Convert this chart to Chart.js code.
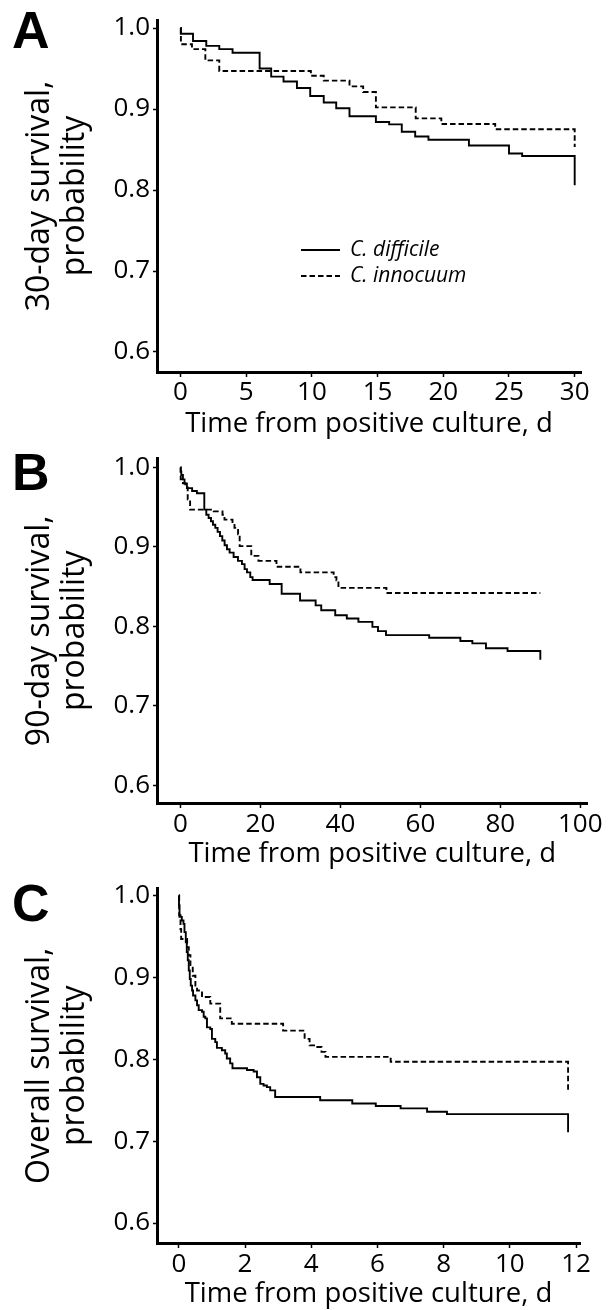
<!DOCTYPE html>
<html><head><meta charset="utf-8">
<script src="https://cdn.jsdelivr.net/npm/chart.js@4.4.1/dist/chart.umd.min.js"></script>
<style>
html,body{margin:0;padding:0;background:#fff;}
#wrap{position:relative;width:611px;height:1310px;overflow:hidden;background:#fff;}
.pane{position:absolute;left:0;width:611px;}
.lbl{position:absolute;font-family:'Liberation Sans',Arial,sans-serif;font-weight:700;font-size:52px;line-height:1;color:#000;}
</style></head><body>
<div id="wrap">
  <div class="pane" style="top:0;height:440px"><canvas id="cA" width="611" height="440"></canvas></div>
  <div class="pane" style="top:440px;height:430px"><canvas id="cB" width="611" height="430"></canvas></div>
  <div class="pane" style="top:870px;height:440px"><canvas id="cC" width="611" height="440"></canvas></div>
  <div class="lbl" style="left:12px;top:4px">A</div>
  <div class="lbl" style="left:12px;top:446px">B</div>
  <div class="lbl" style="left:12px;top:877px">C</div>
</div>
<script>
// ---- data ----
const seriesNames = ['C. difficile', 'C. innocuum'];
const xTitle = 'Time from positive culture, d';
const yTitleA = ['30-day survival,', 'probability'];
const yTitleB = ['90-day survival,', 'probability'];
const yTitleC = ['Overall survival,', 'probability'];
const yTicks = [0.6, 0.7, 0.8, 0.9, 1.0];
const xTicksA = [0, 5, 10, 15, 20, 25, 30];
const xTicksB = [0, 20, 40, 60, 80, 100];
const xTicksC = [0, 2, 4, 6, 8, 10, 12];

// Panel A: 30-day survival
const aDiffT = [0, 0.02, 0.95, 1.96, 2.95, 3.96, 6.02, 6.9, 7.84, 8.86, 9.87, 10.9, 11.85, 12.86, 14.87, 15.88, 16.84, 17.86, 18.87, 21.95, 25.0, 26.0, 30.0, 30.0];
const aDiffS = [1.0, 0.993, 0.984, 0.978, 0.974, 0.9695, 0.950, 0.940, 0.934, 0.926, 0.916, 0.908, 0.901, 0.891, 0.884, 0.881, 0.872, 0.866, 0.862, 0.855, 0.845, 0.842, 0.842, 0.806];
const aInnT = [0, 0.03, 0.87, 1.89, 2.95, 9.92, 10.9, 12.86, 13.9, 14.87, 17.9, 19.85, 23.95, 30.0, 30.0];
const aInnS = [1.0, 0.980, 0.974, 0.960, 0.947, 0.941, 0.935, 0.928, 0.921, 0.902, 0.8885, 0.8815, 0.875, 0.875, 0.853];

// Panel B: 90-day survival
const bDiffT = [0, 0.05, 0.2, 0.6, 1.0, 1.6, 2.9, 4.1, 5.95, 6.45, 7.03, 7.62, 8.12, 8.7, 9.28, 9.87, 10.45, 11.03, 11.62, 12.28, 13.28, 14.37, 15.37, 16.03, 16.62, 17.45, 18.03, 22.3, 25.3, 29.9, 33.8, 35.2, 38.7, 41.6, 44.5, 48.0, 49.4, 51.4, 62.2, 70.0, 73.0, 76.4, 81.8, 90.0, 90.0];
const bDiffS = [1.0, 0.995, 0.9905, 0.985, 0.980, 0.974, 0.9705, 0.9676, 0.947, 0.9406, 0.9365, 0.9323, 0.928, 0.924, 0.919, 0.9136, 0.908, 0.9022, 0.897, 0.8928, 0.8874, 0.8824, 0.8783, 0.872, 0.868, 0.862, 0.8583, 0.8534, 0.841, 0.8326, 0.8264, 0.8202, 0.814, 0.8098, 0.8056, 0.7994, 0.794, 0.789, 0.7857, 0.7815, 0.7786, 0.7724, 0.769, 0.769, 0.758];
const bInnT = [0, 0.05, 0.6, 1.2, 1.8, 2.4, 8.3, 10.5, 11.0, 13.0, 13.5, 14.4, 14.8, 17.7, 19.5, 24.0, 30.0, 38.3, 39.0, 39.5, 51.5, 90.0];
const bInnS = [1.0, 0.985, 0.980, 0.975, 0.960, 0.947, 0.9448, 0.9406, 0.9344, 0.930, 0.924, 0.916, 0.901, 0.8887, 0.8824, 0.875, 0.868, 0.862, 0.858, 0.8484, 0.842, 0.842];

// Panel C: overall survival
const cDiffT = [0, 0.005, 0.02, 0.09, 0.14, 0.17, 0.21, 0.24, 0.27, 0.30, 0.33, 0.36, 0.40, 0.43, 0.50, 0.55, 0.60, 0.70, 0.75, 0.80, 0.85, 0.95, 1.0, 1.1, 1.15, 1.3, 1.4, 1.45, 1.55, 1.62, 2.06, 2.26, 2.36, 2.46, 2.56, 2.66, 2.76, 2.91, 4.27, 5.24, 5.95, 6.7, 7.5, 8.1, 11.76, 11.76];
const cDiffS = [1.0, 0.988, 0.974, 0.9695, 0.9654, 0.9553, 0.943, 0.931, 0.921, 0.9085, 0.898, 0.890, 0.884, 0.878, 0.872, 0.866, 0.860, 0.858, 0.852, 0.850, 0.839, 0.837, 0.825, 0.821, 0.814, 0.811, 0.807, 0.801, 0.795, 0.789, 0.787, 0.785, 0.778, 0.770, 0.768, 0.766, 0.762, 0.754, 0.750, 0.746, 0.743, 0.740, 0.736, 0.733, 0.733, 0.711];
const cInnT = [0, 0.01, 0.05, 0.07, 0.25, 0.30, 0.35, 0.42, 0.50, 0.55, 0.70, 0.95, 1.25, 1.60, 3.15, 3.80, 3.95, 4.13, 4.31, 4.43, 6.40, 11.76, 11.76];
const cInnS = [1.0, 0.976, 0.959, 0.947, 0.937, 0.927, 0.915, 0.902, 0.890, 0.884, 0.876, 0.868, 0.850, 0.8435, 0.835, 0.825, 0.817, 0.815, 0.809, 0.803, 0.797, 0.797, 0.760];

// ---- chart building ----
const FAM = "'Open Sans', sans-serif";
const DASH = [5.5, 3];

const legendPlugin = {
  id: 'inlineLegend',
  afterDatasetsDraw(chart, args, opts) {
    if (!opts || !opts.show) return;
    const ctx = chart.ctx;
    ctx.save();
    chart.data.datasets.forEach((d, i) => {
      const y = opts.y[i];
      ctx.beginPath();
      ctx.setLineDash(d.borderDash || []);
      ctx.lineWidth = 2;
      ctx.strokeStyle = '#000';
      ctx.moveTo(opts.x1, y);
      ctx.lineTo(opts.x2, y);
      ctx.stroke();
      ctx.setLineDash([]);
      ctx.fillStyle = '#000';
      ctx.font = 'italic 21px ' + FAM;
      ctx.textBaseline = 'middle';
      ctx.textAlign = 'left';
      ctx.fillText(d.label, opts.tx, y);
    });
    ctx.restore();
  }
};

function series(t, s, label, dash) {
  return {
    label: label,
    data: t.map((x, i) => ({x: x, y: s[i]})),
    stepped: true,
    borderColor: '#000',
    borderWidth: 1.9,
    borderDash: dash,
    pointRadius: 0,
    fill: false,
    tension: 0
  };
}

function makeChart(id, c) {
  new Chart(document.getElementById(id), {
    type: 'line',
    data: {datasets: [series(c.t1, c.s1, seriesNames[0], []), series(c.t2, c.s2, seriesNames[1], DASH)]},
    options: {
      responsive: false,
      animation: false,
      events: [],
      layout: {padding: {top: c.top, right: c.right, left: 0, bottom: 0}},
      plugins: {legend: {display: false}, tooltip: {enabled: false}, inlineLegend: c.legend || {show: false}},
      scales: {
        x: {
          type: 'linear', min: c.xmin, max: c.xmax,
          afterBuildTicks: s => { s.ticks = c.xt.map(v => ({value: v})); },
          afterFit: s => { s.height = c.xh; },
          grid: {display: true, drawOnChartArea: false, drawTicks: true, tickLength: 5, tickWidth: 1.5, tickColor: '#000'},
          border: {display: true, width: 3, color: '#000'},
          ticks: {autoSkip: false, maxRotation: 0, padding: c.xpad, color: '#000', font: {family: FAM, size: 26}, callback: v => String(v)},
          title: {display: true, text: xTitle, color: '#000', font: {family: FAM, size: 27.5, lineHeight: 1.15}, padding: {top: 0, bottom: 0}}
        },
        y: {
          type: 'linear', min: c.ymin, max: c.ymax,
          afterBuildTicks: s => { s.ticks = yTicks.map(v => ({value: v})); },
          afterFit: s => { s.width = 157; },
          grid: {display: true, drawOnChartArea: false, drawTicks: true, tickLength: 4, tickWidth: 1.5, tickColor: '#000'},
          border: {display: true, width: 3, color: '#000'},
          ticks: {autoSkip: false, padding: 3, color: '#000', font: {family: FAM, size: 26}, callback: v => v.toFixed(1)},
          title: {display: true, text: c.ytitle, color: '#000', font: {family: FAM, size: 32, lineHeight: 1.1}, padding: {top: 22, bottom: 0}}
        }
      }
    },
    plugins: [legendPlugin]
  });
}

makeChart('cA', {t1: aDiffT, s1: aDiffS, t2: aInnT, s2: aInnS, xt: xTicksA, xmin: -1.79, xmax: 30.48,
  ymin: 0.5753, ymax: 1.0099, top: 20, right: 30, xh: 68, xpad: 0, ytitle: yTitleA,
  legend: {show: true, x1: 301, x2: 340, tx: 350, y: [250, 276]}});
makeChart('cB', {t1: bDiffT, s1: bDiffS, t2: bInnT, s2: bInnS, xt: xTicksB, xmin: -5.88, xmax: 101.8,
  ymin: 0.5776, ymax: 1.0112, top: 15, right: 23.5, xh: 67, xpad: 1, ytitle: yTitleB});
makeChart('cC', {t1: cDiffT, s1: cDiffS, t2: cInnT, s2: cInnS, xt: xTicksC, xmin: -0.66, xmax: 12.12,
  ymin: 0.5756, ymax: 1.0085, top: 18, right: 31, xh: 67, xpad: 1, ytitle: yTitleC});
</script>
</body></html>
